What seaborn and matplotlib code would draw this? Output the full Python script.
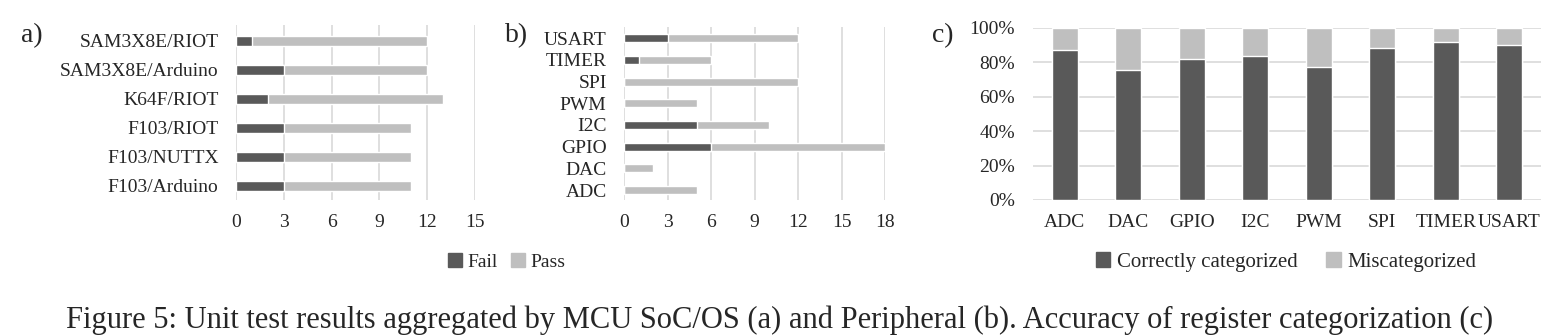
import matplotlib
matplotlib.use("Agg")
import matplotlib.pyplot as plt
from matplotlib.patches import Patch
import seaborn as sns
import pandas as pd
import numpy as np

# ---- data ----
soc_os = ["SAM3X8E/RIOT", "SAM3X8E/Arduino", "K64F/RIOT", "F103/RIOT", "F103/NUTTX", "F103/Arduino"]
soc_fail = [1, 3, 2, 3, 3, 3]
soc_pass = [11, 9, 11, 8, 8, 8]

periph_b = ["USART", "TIMER", "SPI", "PWM", "I2C", "GPIO", "DAC", "ADC"]
periph_fail = [3, 1, 0, 0, 5, 6, 0, 0]
periph_pass = [9, 5, 12, 5, 5, 12, 2, 5]

periph_c = ["ADC", "DAC", "GPIO", "I2C", "PWM", "SPI", "TIMER", "USART"]
correct_pct = [87.0, 75.7, 82.1, 83.9, 77.5, 88.5, 91.6, 89.9]
miscat_pct = [100 - v for v in correct_pct]

DARK = "#595959"
LIGHT = "#bfbfbf"
GRID = "#d9d9d9"

sns.set_theme(style="white")
plt.rcParams["font.family"] = ["Liberation Serif", "DejaVu Serif"]
FS = 14

fig = plt.figure(figsize=(15.58, 3.36), dpi=100)
W, H = 1558, 336

def axes_px(l, t, r, b):
    return fig.add_axes([l / W, 1 - b / H, (r - l) / W, (b - t) / H])

def style_h(ax, xmax, step):
    ax.set_xlim(0, xmax)
    ax.set_xticks(np.arange(0, xmax + 0.1, step))
    ax.grid(axis="x", color=GRID, linewidth=1.2)
    ax.grid(axis="y", visible=False)
    ax.set_axisbelow(True)
    for s in ax.spines.values():
        s.set_visible(False)
    ax.tick_params(axis="both", length=0, labelsize=FS)
    ax.tick_params(axis="x", pad=10)
    ax.tick_params(axis="y", pad=12.5)
    ax.set_xlabel("")
    ax.set_ylabel("")

# ---- panel a ----
ax_a = axes_px(236, 25, 475, 200)
df_a = pd.DataFrame({"cat": soc_os, "fail": soc_fail, "pass": soc_pass})
df_a["total"] = df_a["fail"] + df_a["pass"]
sns.barplot(data=df_a, y="cat", x="total", color=LIGHT, width=0.34, ax=ax_a, saturation=1, orient="h")
sns.barplot(data=df_a, y="cat", x="fail", color=DARK, width=0.34, ax=ax_a, saturation=1, orient="h")
style_h(ax_a, 15, 3)
ax_a.set_ylim(len(soc_os) - 0.51, -0.54)

# ---- panel b ----
ax_b = axes_px(624, 27, 885, 200)
df_b = pd.DataFrame({"cat": periph_b, "fail": periph_fail, "pass": periph_pass})
df_b["total"] = df_b["fail"] + df_b["pass"]
sns.barplot(data=df_b, y="cat", x="total", color=LIGHT, width=0.36, ax=ax_b, saturation=1, orient="h")
sns.barplot(data=df_b, y="cat", x="fail", color=DARK, width=0.36, ax=ax_b, saturation=1, orient="h")
style_h(ax_b, 18, 3)
ax_b.set_ylim(len(periph_b) - 0.54, -0.52)

# ---- panel c ----
ax_c = axes_px(1033, 28, 1541, 200)
df_c = pd.DataFrame({"cat": periph_c, "correct": correct_pct, "mis": miscat_pct})
df_c["total"] = df_c["correct"] + df_c["mis"]
sns.barplot(data=df_c, x="cat", y="total", color=LIGHT, width=0.41, ax=ax_c, saturation=1)
sns.barplot(data=df_c, x="cat", y="correct", color=DARK, width=0.41, ax=ax_c, saturation=1)
ax_c.set_ylim(0, 100)
ax_c.set_xlim(-0.5, len(periph_c) - 0.5)
ax_c.set_yticks(np.arange(0, 101, 20))
ax_c.set_yticklabels([f"{v}%" for v in range(0, 101, 20)])
ax_c.grid(axis="y", color=GRID, linewidth=1.2)
ax_c.grid(axis="x", visible=False)
ax_c.set_axisbelow(True)
for s in ax_c.spines.values():
    s.set_visible(False)
ax_c.tick_params(axis="both", length=0, labelsize=FS)
ax_c.tick_params(axis="x", pad=10)
ax_c.tick_params(axis="y", pad=13)
ax_c.set_xlabel("")
ax_c.set_ylabel("")

# ---- panel labels ----
fig.text(21 / W, 1 - 36 / H, "a)", fontsize=20, va="center", ha="left")
fig.text(505 / W, 1 - 36 / H, "b)", fontsize=20, va="center", ha="left")
fig.text(932 / W, 1 - 36 / H, "c)", fontsize=20, va="center", ha="left")

# ---- legends ----
leg_kw = dict(frameon=False, ncol=2, handlelength=0.7, handleheight=0.7,
              handletextpad=0.3, loc="center")
fig.legend(handles=[Patch(color=DARK, label="Fail"), Patch(color=LIGHT, label="Pass")],
           bbox_to_anchor=(507 / W, 1 - 262 / H), fontsize=14, columnspacing=0.7, **leg_kw)
fig.legend(handles=[Patch(color=DARK, label="Correctly categorized"), Patch(color=LIGHT, label="Miscategorized")],
           bbox_to_anchor=(1286 / W, 1 - 262 / H), fontsize=15, columnspacing=1.4, **leg_kw)

# ---- caption ----
fig.text(780 / W, 1 - 320 / H,
         "Figure 5: Unit test results aggregated by MCU SoC/OS (a) and Peripheral (b). Accuracy of register categorization (c)",
         fontsize=22, ha="center", va="center")

fig.savefig("out.png", dpi=100)
